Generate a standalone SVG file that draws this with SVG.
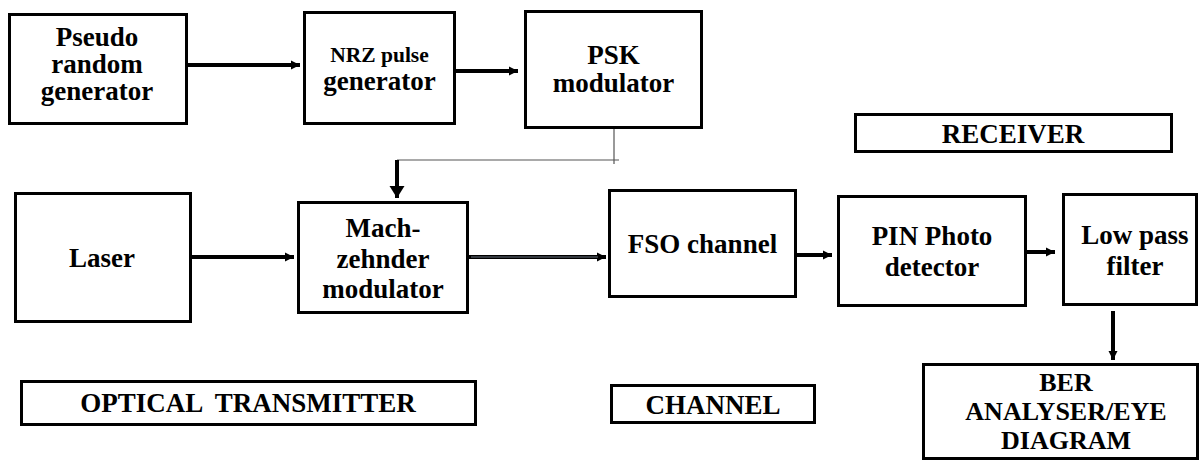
<svg xmlns="http://www.w3.org/2000/svg" width="1200" height="461" viewBox="0 0 1200 461">
  <style>
    .box { fill: #ffffff; stroke: #000000; stroke-width: 3; }
    .lbl { font-family: 'Liberation Serif', 'DejaVu Serif', serif; font-weight: bold; font-size: 27px; fill: #000000; text-anchor: middle; }
    .sm { font-size: 21.5px; }
    .md { font-size: 26px; }
    .conn { stroke: #000000; stroke-width: 4; fill: none; }
    .thin { stroke: #555555; stroke-width: 1.2; fill: none; }
  </style>
  <defs>
    <marker id="arr" markerUnits="userSpaceOnUse" markerWidth="10" markerHeight="10" refX="9" refY="5" orient="auto">
      <path d="M0,0.5 L9,5 L0,9.5 Z" fill="#000000"/>
    </marker>
    <marker id="arrBig" markerUnits="userSpaceOnUse" markerWidth="16" markerHeight="16" refX="12" refY="8" orient="auto">
      <path d="M0,0.5 L12,8 L0,15.5 Z" fill="#000000"/>
    </marker>
  </defs>

  <rect width="1200" height="461" fill="#ffffff"/>

  <!-- connectors -->
  <g id="connectors">
    <line class="conn" x1="188" y1="65" x2="300" y2="65" marker-end="url(#arr)"/>
    <line class="conn" x1="456" y1="71" x2="518" y2="71" marker-end="url(#arr)"/>
    <!-- PSK output routed to the modulator drive -->
    <line class="thin" x1="614" y1="129" x2="614" y2="164"/>
    <line class="thin" x1="619" y1="160" x2="397" y2="160"/>
    <line class="conn" x1="397" y1="160" x2="397" y2="198" stroke-width="6" marker-end="url(#arrBig)"/>
    <line class="conn" x1="192" y1="257" x2="294" y2="257" marker-end="url(#arr)"/>
    <!-- double-ruled optical path into the channel -->
    <line class="conn" x1="469" y1="257" x2="606" y2="257" stroke-width="5" marker-end="url(#arr)"/>
    <line x1="471" y1="257" x2="598" y2="257" stroke="#6a7480" stroke-width="1.2"/>
    <line class="conn" x1="797" y1="255" x2="832" y2="255" marker-end="url(#arr)"/>
    <line class="conn" x1="1027" y1="252" x2="1055" y2="252" marker-end="url(#arr)"/>
    <line class="conn" x1="1113" y1="311" x2="1113" y2="360" marker-end="url(#arr)"/>
  </g>

  <!-- transmitter chain -->
  <g id="pseudo-random">
    <rect class="box" x="9.5" y="14.5" width="177" height="109"/>
    <text class="lbl" font-family="Liberation Serif, DejaVu Serif, serif" x="97" y="46">Pseudo</text>
    <text class="lbl" font-family="Liberation Serif, DejaVu Serif, serif" x="97" y="73">random</text>
    <text class="lbl" font-family="Liberation Serif, DejaVu Serif, serif" x="97" y="100">generator</text>
  </g>
  <g id="nrz">
    <rect class="box" x="304.5" y="12.5" width="150" height="111"/>
    <text class="lbl sm" x="379.5" y="62">NRZ pulse</text>
    <text class="lbl" x="379.5" y="90">generator</text>
  </g>
  <g id="psk">
    <rect class="box" x="525.5" y="11.5" width="176" height="116"/>
    <text class="lbl" x="613.5" y="64">PSK</text>
    <text class="lbl" x="613.5" y="92">modulator</text>
  </g>
  <g id="laser">
    <rect class="box" x="15.5" y="193.5" width="175" height="128"/>
    <text class="lbl" x="102" y="267">Laser</text>
  </g>
  <g id="mzm">
    <rect class="box" x="298.5" y="202.5" width="169" height="110"/>
    <text class="lbl" x="383" y="237">Mach-</text>
    <text class="lbl" x="383" y="268">zehnder</text>
    <text class="lbl" x="383" y="298">modulator</text>
  </g>

  <!-- channel -->
  <g id="fso">
    <rect class="box" x="609.5" y="190.5" width="186" height="106"/>
    <text class="lbl" x="702.5" y="253">FSO channel</text>
  </g>

  <!-- receiver chain -->
  <g id="pin">
    <rect class="box" x="838.5" y="196.5" width="187" height="109"/>
    <text class="lbl" x="932" y="245">PIN Photo</text>
    <text class="lbl" x="932" y="276">detector</text>
  </g>
  <g id="lpf">
    <rect class="box" x="1063.5" y="194.5" width="133" height="110"/>
    <text class="lbl" x="1135" y="244">Low pass</text>
    <text class="lbl" x="1135" y="275">filter</text>
  </g>
  <g id="ber">
    <rect class="box" x="923.5" y="364.5" width="274" height="94"/>
    <text class="lbl md" x="1066" y="391">BER</text>
    <text class="lbl md" x="1066" y="420">ANALYSER/EYE</text>
    <text class="lbl md" x="1066" y="449">DIAGRAM</text>
  </g>

  <!-- section labels -->
  <g id="receiver-label">
    <rect class="box" x="855.5" y="114.5" width="316" height="37"/>
    <text class="lbl" x="1013" y="143">RECEIVER</text>
  </g>
  <g id="transmitter-label">
    <rect class="box" x="21.5" y="381.5" width="454" height="43"/>
    <text class="lbl" x="248" y="412" xml:space="preserve">OPTICAL  TRANSMITTER</text>
  </g>
  <g id="channel-label">
    <rect class="box" x="611.5" y="385.5" width="203" height="37"/>
    <text class="lbl" x="713" y="414">CHANNEL</text>
  </g>
</svg>
